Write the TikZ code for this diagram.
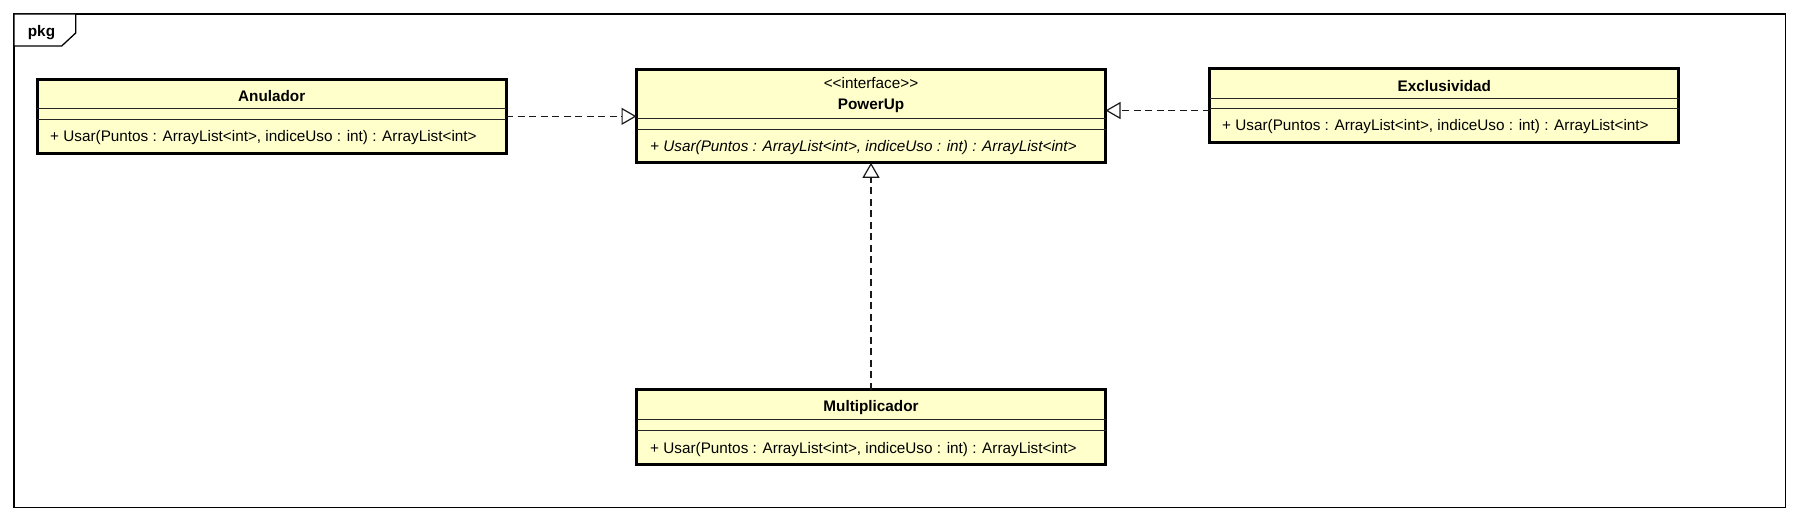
\documentclass[tikz,border=0pt]{standalone}
\usepackage{fontspec}
\setmainfont{Liberation Sans}
\usetikzlibrary{arrows.meta}
\definecolor{classfill}{RGB}{255,255,204}
\begin{document}
\begin{tikzpicture}[x=1pt,y=-1pt,
  classbox/.style={draw=black, line width=3pt, fill=classfill, rectangle, inner sep=0pt, outer sep=0pt, anchor=north west, minimum width=469pt},
  sepline/.style={line width=1pt, draw=black!85},
  cname/.style={font=\fontsize{15.3}{18}\selectfont\bfseries, inner sep=0pt, anchor=base},
  stereo/.style={font=\fontsize{15.3}{18}\selectfont, inner sep=0pt, anchor=base},
  meth/.style={font=\fontsize{15.3}{18}\selectfont, inner sep=0pt, anchor=base west},
  realize/.style={line width=1.2pt, draw=black!90, dash pattern=on 7pt off 4.5pt, -{Triangle[length=15pt,width=17pt,fill=white]}},
  frameline/.style={line width=1.3pt, draw=black},
]
\useasboundingbox (0,0) rectangle (1798,521);
% package frame
\draw[frameline] (14,14) rectangle (1785.5,507.7);
\draw[frameline, fill=white] (14,14) -- (75.7,14) -- (75.7,33) -- (61.7,46) -- (14,46) -- cycle;
\node[cname] (pkg) at (41.5,37) {pkg};

% Anulador
\node[classbox, minimum height=74.3pt] (anul) at (37.2,79.2) {};
\draw[sepline] (anul.west |- 0,108.3) -- (anul.east |- 0,108.3);
\draw[sepline] (anul.west |- 0,119.3) -- (anul.east |- 0,119.3);
\node[cname] (anulN) at (anul.north |- 0,101.7) {Anulador};
\node[meth] (anulM) at (50,141.7) {+ Usar(Puntos : ArrayList<int>, indiceUso : int) : ArrayList<int>};

% PowerUp
\node[classbox, minimum height=93pt] (pu) at (636.5,69.8) {};
\draw[sepline] (pu.west |- 0,118.3) -- (pu.east |- 0,118.3);
\draw[sepline] (pu.west |- 0,129.3) -- (pu.east |- 0,129.3);
\node[stereo] (puS) at (pu.north |- 0,88.3) {<{}<interface>{}>};
\node[cname] (puN) at (pu.north |- 0,110) {PowerUp};
\node[meth, font=\fontsize{15.3}{18}\selectfont\itshape] (puM) at (650,151.7) {+ Usar(Puntos : ArrayList<int>, indiceUso : int) : ArrayList<int>};

% Exclusividad
\node[classbox, minimum height=73.7pt] (ex) at (1209.8,68.8) {};
\draw[sepline] (ex.west |- 0,98.3) -- (ex.east |- 0,98.3);
\draw[sepline] (ex.west |- 0,108.3) -- (ex.east |- 0,108.3);
\node[cname] (exN) at (ex.north |- 0,91.3) {Exclusividad};
\node[meth] (exM) at (1222,131) {+ Usar(Puntos : ArrayList<int>, indiceUso : int) : ArrayList<int>};

% Multiplicador
\node[classbox, minimum height=74.7pt] (mul) at (636.5,389.8) {};
\draw[sepline] (mul.west |- 0,419.3) -- (mul.east |- 0,419.3);
\draw[sepline] (mul.west |- 0,430.5) -- (mul.east |- 0,430.5);
\node[cname] (mulN) at (mul.north |- 0,411) {Multiplicador};
\node[meth] (mulM) at (650,453.3) {+ Usar(Puntos : ArrayList<int>, indiceUso : int) : ArrayList<int>};

% realizations
\draw[realize] (anul.east) -- (anul.east -| pu.west);
\draw[realize] (ex.west |- 0,110.5) -- (pu.east |- 0,110.5);
\draw[realize] (mul.north) -- (mul.north |- pu.south);
\end{tikzpicture}
\end{document}
